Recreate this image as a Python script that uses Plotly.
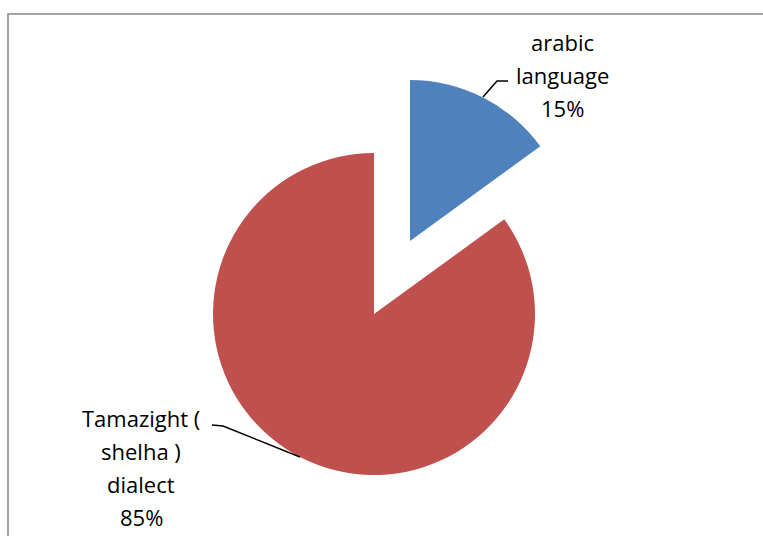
import plotly.graph_objects as go

# Survey shares by language
labels = ["arabic language", "Tamazight ( shelha ) dialect"]
values = [15, 85]
colors = ["#4F81BD", "#C0504D"]
label_lines = [["arabic", "language", "15%"],
               ["Tamazight (", "shelha )", "dialect", "85%"]]

W, H = 763, 536
CLEAR = "rgba(0,0,0,0)"


def px(x):
    return x / W


def py(y):
    return 1 - y / H


fig = go.Figure()

# Main pie (Tamazight slice) and the exploded arabic slice drawn as a second,
# offset copy of the same pie so each slice keeps the full radius.
pies = [
    dict(center=(374, 314), show=[False, True]),
    dict(center=(410, 241), show=[True, False]),
]
r = 161
for p in pies:
    cx, cy = p["center"]
    fig.add_trace(go.Pie(
        labels=labels,
        values=values,
        sort=False,
        direction="clockwise",
        rotation=0,
        textinfo="none",
        hoverinfo="label+percent",
        marker=dict(colors=[c if s else CLEAR for c, s in zip(colors, p["show"])],
                    line=dict(width=0)),
        domain=dict(x=[px(cx - r), px(cx + r)], y=[py(cy + r), py(cy - r)]),
        showlegend=False,
    ))

font = dict(family="Open Sans, Lato, sans-serif", size=22, color="#000000")

# Data labels, one annotation per line to keep the wide line spacing
label_pos = [(562, 42), (141, 418)]
spacing = 33
for lines, (lx, ly) in zip(label_lines, label_pos):
    for i, t in enumerate(lines):
        fig.add_annotation(x=px(lx), y=py(ly + i * spacing), xref="paper", yref="paper",
                           text=t, showarrow=False, font=font,
                           xanchor="center", yanchor="middle")

line = dict(color="#000000", width=1.5)
# Leader lines
fig.add_shape(type="path", xref="paper", yref="paper",
              path=f"M {px(483)},{py(97)} L {px(497)},{py(81)} L {px(508)},{py(81)}",
              line=line)
fig.add_shape(type="path", xref="paper", yref="paper",
              path=f"M {px(212)},{py(425)} L {px(223)},{py(426)} L {px(300)},{py(457)}",
              line=line)

# Chart area frame
fig.add_shape(type="rect", xref="paper", yref="paper",
              x0=px(8), y0=-0.2, x1=1.2, y1=py(14),
              line=dict(color="#868686", width=1.5), fillcolor=CLEAR)

fig.update_layout(
    width=W, height=H,
    margin=dict(l=0, r=0, t=0, b=0),
    paper_bgcolor="#FFFFFF",
    plot_bgcolor="#FFFFFF",
)

fig.write_html("out.html")
